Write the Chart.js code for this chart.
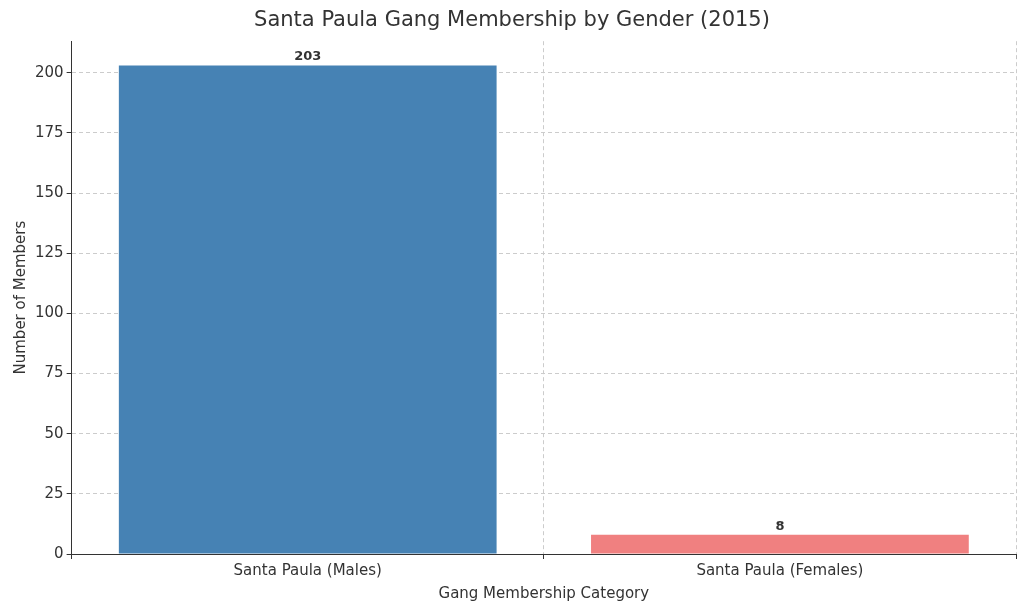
<!DOCTYPE html>
<html><head><meta charset="utf-8">
<script src="https://cdn.jsdelivr.net/npm/chart.js@4"></script>
<style>html,body{margin:0;padding:0;background:#fff}#w{width:1024px;height:611px}</style>
</head><body><div id="w"><canvas id="c"></canvas></div>
<script>
const categories = ["Santa Paula (Males)", "Santa Paula (Females)"];
const members = [203, 8];
const colors = ["#4682B4", "#F08080"];
const yTicks = [0,25,50,75,100,125,150,175,200];

const labelPlugin = {
  id: 'lbl',
  afterDatasetsDraw(chart){
    const ctx = chart.ctx;
    const meta = chart.getDatasetMeta(0);
    ctx.save();
    ctx.font = 'bold 13px "DejaVu Sans"';
    ctx.fillStyle = '#333';
    ctx.textAlign = 'center';
    ctx.textBaseline = 'bottom';
    meta.data.forEach((b,i)=>ctx.fillText(String(members[i]), b.x, b.y-2));
    ctx.restore();
  }
};
const font = {family:'"DejaVu Sans"', size:15};
new Chart(document.getElementById('c'), {
  type:'bar',
  data:{labels:categories, datasets:[{data:members, backgroundColor:colors, categoryPercentage:0.8, barPercentage:1}]},
  options:{
    responsive:true, maintainAspectRatio:false, animation:false,
    layout:{padding:{left:8,right:8,top:4,bottom:4}},
    plugins:{legend:{display:false}, tooltip:{enabled:false},
      title:{display:true,text:'Santa Paula Gang Membership by Gender (2015)',color:'#333',font:{family:'"DejaVu Sans"',size:21,weight:'normal'},padding:{top:4,bottom:8}}},
    scales:{
      x:{z:1, offset:true, ticks:{color:'#333',font}, 
        grid:{color:'#ccc', tickColor:'#333', tickLength:5, drawOnChartArea:true},
        border:{color:'#333', dash:[4,3]},
        title:{display:true,text:'Gang Membership Category',color:'#333',font,padding:{top:2}}},
      y:{z:1, min:0, max:213.15, afterBuildTicks(s){s.ticks=yTicks.map(v=>({value:v}));},
        ticks:{color:'#333',font},
        grid:{color:'#ccc', tickColor:'#333', tickLength:5},
        border:{color:'#333', dash:[4,3]},
        title:{display:true,text:'Number of Members',color:'#333',font,padding:{bottom:2}}}
    }
  },
  plugins:[labelPlugin]
});
</script></body></html>
